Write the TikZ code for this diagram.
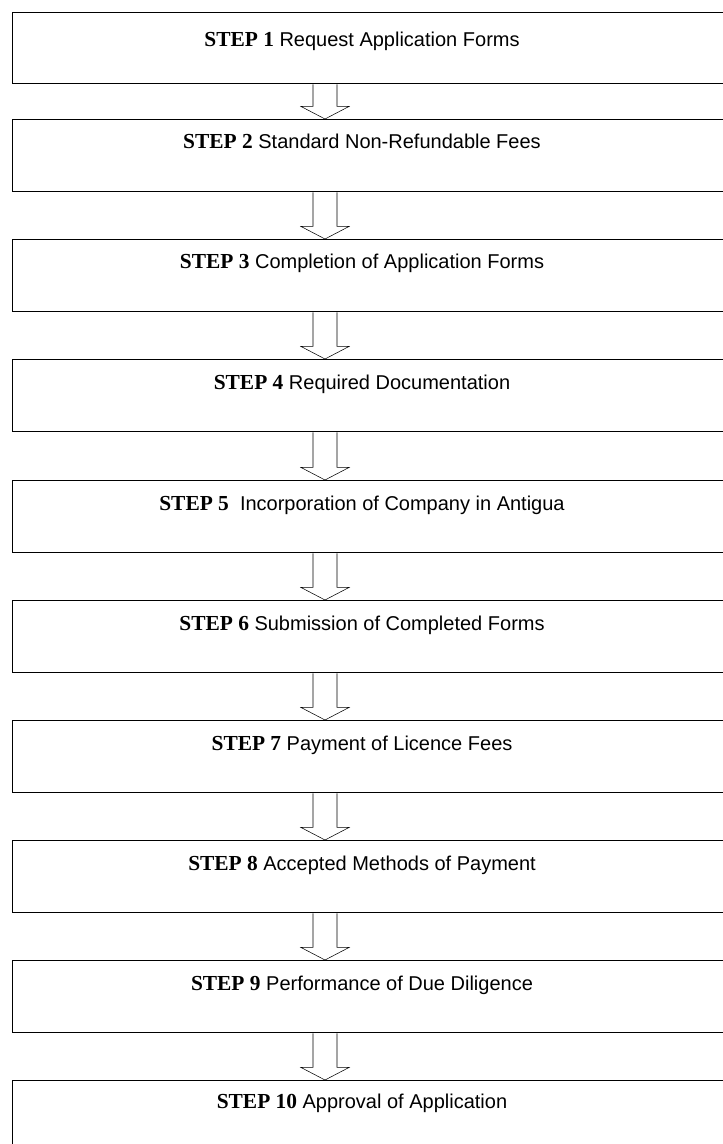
\documentclass[tikz,border=0pt]{standalone}
\usepackage{fontspec}
\setmainfont{Liberation Sans}
\newfontfamily\stepfont{Liberation Serif}[Scale=1.07]
\newcommand{\stepno}[1]{{\stepfont\bfseries STEP #1}}

\tikzset{
  stepbox/.style={draw, line width=1.1pt, anchor=north west,
    minimum width=555pt, minimum height=54pt, inner sep=0pt},
  steplabel/.style={anchor=base, inner sep=0pt,
    font=\fontsize{15}{18}\selectfont},
  blockarrow/.style={line width=0.8pt, to path={
    ([xshift=-9pt]\tikztostart) -- ([xshift=-9pt,yshift=9.4pt]\tikztotarget)
    -- ([xshift=-18pt,yshift=9.4pt]\tikztotarget) -- (\tikztotarget)
    -- ([xshift=18pt,yshift=9.4pt]\tikztotarget)
    -- ([xshift=9pt,yshift=9.4pt]\tikztotarget) -- ([xshift=9pt]\tikztostart)}}
}

\begin{document}
\begin{tikzpicture}[x=0.75pt,y=-0.75pt]
  \path[use as bounding box, clip] (0,0) rectangle (723,1144);
  \coordinate (ax) at (325,0);

  \node[stepbox, minimum height=53.25pt] (step1) at (12,12) {};
  \node[stepbox] (step2) at (12,119) {};
  \node[stepbox] (step3) at (12,239) {};
  \node[stepbox] (step4) at (12,359) {};
  \node[stepbox] (step5) at (12,480) {};
  \node[stepbox] (step6) at (12,600) {};
  \node[stepbox] (step7) at (12,720) {};
  \node[stepbox] (step8) at (12,840) {};
  \node[stepbox] (step9) at (12,960) {};
  \node[stepbox] (step10) at (12,1080) {};

  \node[steplabel] (label1) at (362,47) {\stepno{1} Request Application Forms};
  \node[steplabel] (label2) at (362,149) {\stepno{2} Standard Non-Refundable Fees};
  \node[steplabel] (label3) at (362,269) {\stepno{3} Completion of Application Forms};
  \node[steplabel] (label4) at (362,389) {\stepno{4} Required Documentation};
  \node[steplabel] (label5) at (362,510) {\stepno{5}\ \ Incorporation of Company in Antigua};
  \node[steplabel] (label6) at (362,630) {\stepno{6} Submission of Completed Forms};
  \node[steplabel] (label7) at (362,750) {\stepno{7} Payment of Licence Fees};
  \node[steplabel] (label8) at (362,870) {\stepno{8} Accepted Methods of Payment};
  \node[steplabel] (label9) at (362,990) {\stepno{9} Performance of Due Diligence};
  \node[steplabel] (label10) at (362,1108) {\stepno{10} Approval of Application};

  \draw (step1.south -| ax) to[blockarrow] (step2.north -| ax);
  \draw (step2.south -| ax) to[blockarrow] (step3.north -| ax);
  \draw (step3.south -| ax) to[blockarrow] (step4.north -| ax);
  \draw (step4.south -| ax) to[blockarrow] (step5.north -| ax);
  \draw (step5.south -| ax) to[blockarrow] (step6.north -| ax);
  \draw (step6.south -| ax) to[blockarrow] (step7.north -| ax);
  \draw (step7.south -| ax) to[blockarrow] (step8.north -| ax);
  \draw (step8.south -| ax) to[blockarrow] (step9.north -| ax);
  \draw (step9.south -| ax) to[blockarrow] (step10.north -| ax);

\end{tikzpicture}
\end{document}
